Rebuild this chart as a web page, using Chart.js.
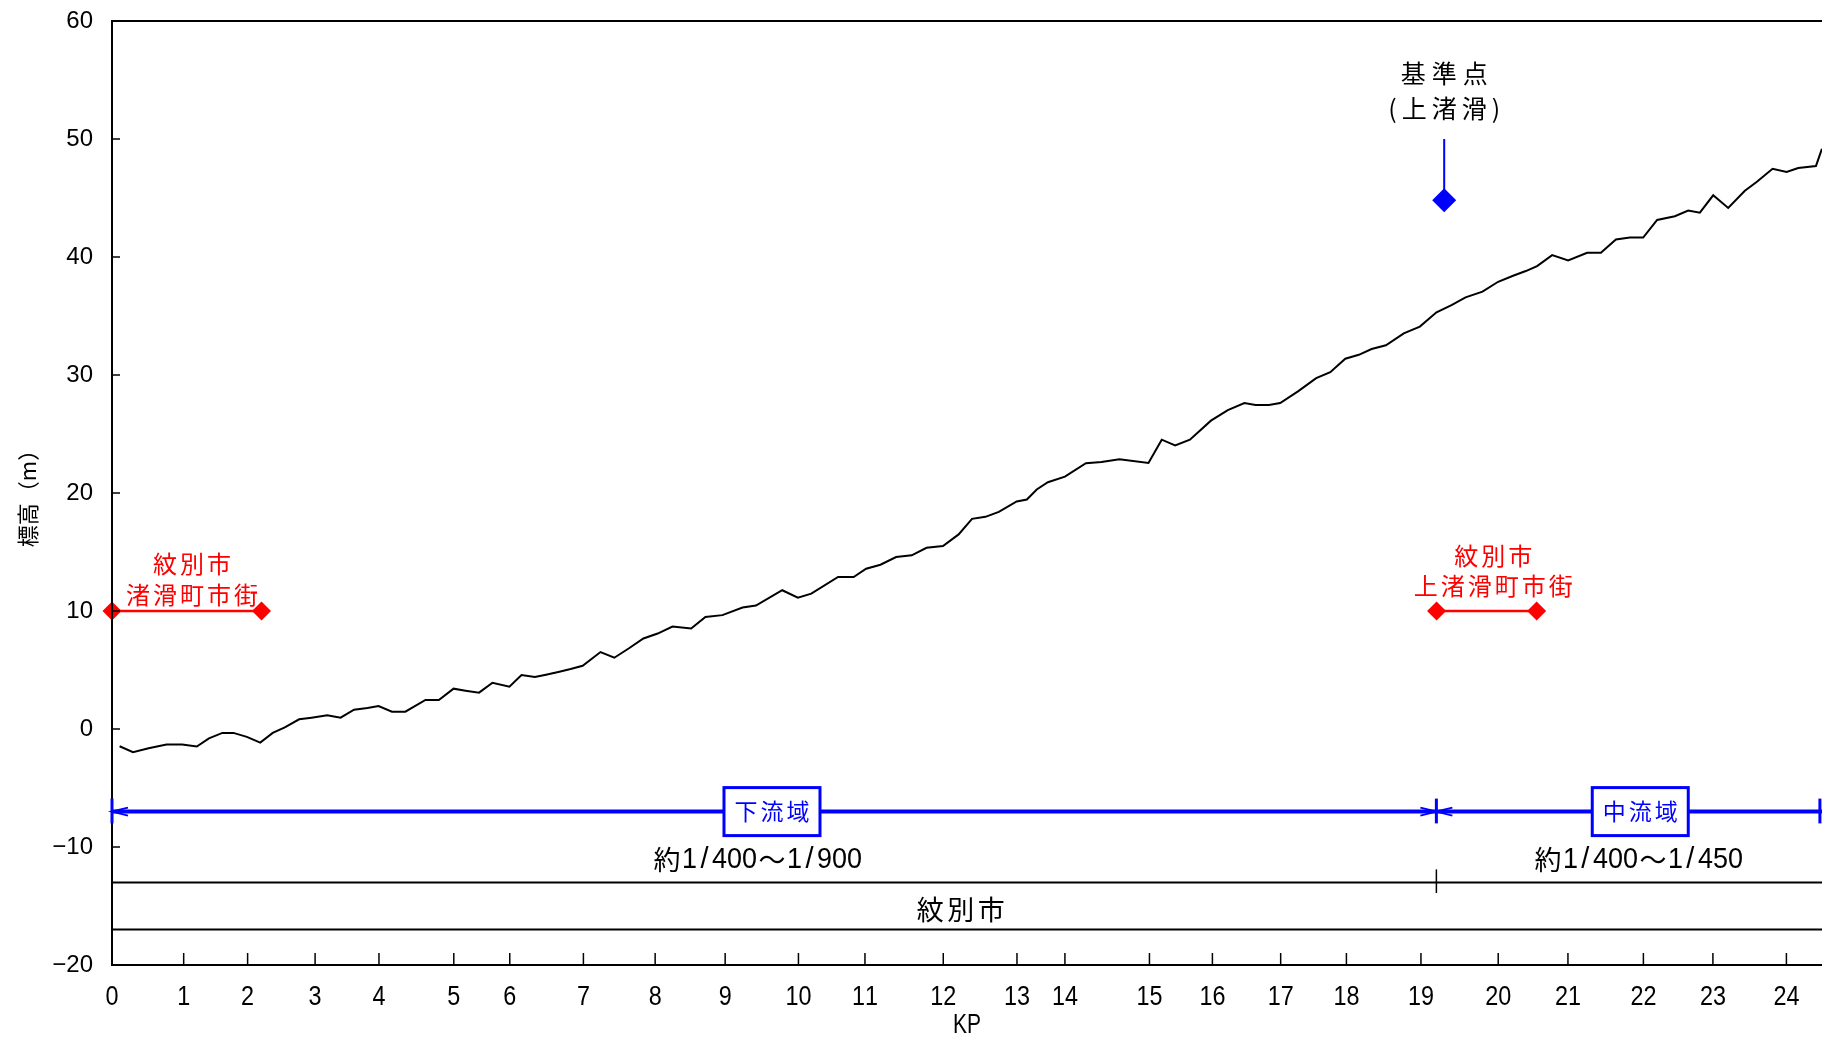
<!DOCTYPE html>
<html><head><meta charset="utf-8">
<script src="https://cdn.jsdelivr.net/npm/chart.js@4.4.0/dist/chart.umd.min.js"></script>
<style>html,body{margin:0;padding:0;background:#fff;overflow:hidden}</style>
</head><body>
<canvas id="c" width="1822" height="1039"></canvas>
<script>
// ---------- data ----------
const kpLabels = ['0','1','2','3','4','5','6','7','8','9','10','11','12','13','14','15','16','17','18','19','20','21','22','23','24'];
const kpPositions = [0,1.027,1.943,2.910,3.825,4.897,5.699,6.754,7.782,8.785,9.835,10.788,11.910,12.966,13.653,14.864,15.766,16.744,17.686,18.754,19.861,20.860,21.941,22.937,23.990];
const yTicks = [-20,-10,0,10,20,30,40,50,60];

const profileDist = [0.109,0.301,0.524,0.781,1.005,1.215,1.389,1.581,1.740,1.932,
 2.124,2.303,2.476,2.681,2.859,3.084,3.275,3.468,3.660,3.819,
 4.011,4.203,4.491,4.683,4.894,5.066,5.259,5.451,5.694,5.867,
 6.059,6.218,6.410,6.571,6.743,6.999,7.197,7.402,7.614,7.818,
 8.030,8.298,8.502,8.746,9.034,9.226,9.603,9.827,10.019,10.403,
 10.626,10.805,11.010,11.234,11.458,11.670,11.906,12.130,12.322,12.514,
 12.706,12.962,13.108,13.249,13.409,13.653,13.954,14.177,14.433,14.850,
 15.040,15.232,15.444,15.745,15.987,16.224,16.384,16.576,16.737,16.992,
 17.253,17.455,17.670,17.864,18.047,18.252,18.508,18.738,18.977,19.192,
 19.393,19.636,19.860,20.074,20.256,20.418,20.634,20.863,21.135,21.332,
 21.547,21.748,21.938,22.138,22.392,22.583,22.750,22.941,23.156,23.395,
 23.563,23.792,23.993,24.159,24.413,24.499];
const profileElev = [-1.46,-1.97,-1.63,-1.32,-1.32,-1.49,-0.79,-0.33,-0.33,-0.67,
 -1.15,-0.33,0.14,0.82,0.96,1.16,0.96,1.64,1.78,1.95,
 1.47,1.47,2.46,2.46,3.42,3.25,3.08,3.92,3.58,4.57,
 4.40,4.60,4.85,5.08,5.36,6.52,6.04,6.82,7.67,8.09,
 8.68,8.51,9.50,9.65,10.29,10.46,11.76,11.13,11.47,12.88,
 12.88,13.58,13.92,14.57,14.72,15.36,15.50,16.49,17.81,17.98,
 18.40,19.28,19.45,20.30,20.91,21.39,22.52,22.63,22.86,22.54,
 24.52,24.04,24.52,26.13,27.02,27.62,27.45,27.45,27.62,28.61,
 29.73,30.24,31.38,31.71,32.20,32.52,33.53,34.10,35.31,35.93,
 36.58,37.06,37.90,38.41,38.81,39.23,40.16,39.70,40.36,40.36,
 41.48,41.65,41.65,43.14,43.46,43.93,43.76,45.23,44.16,45.62,
 46.36,47.48,47.20,47.54,47.71,49.17];

// town (市街) ranges
const townLine1 = ['紋別市','紋別市'];
const townLine2 = ['渚滑町市街','上渚滑町市街'];
const townStart = [0, 18.978];
const townEnd = [2.142, 20.411];
const townElev = [10, 10];
const townLabelDist = [1.146, 19.79];
const townLabelElev1 = [14.0, 14.67];
const townLabelElev2 = [11.37, 12.14];

// benchmark
const benchLabel = ['基準点','(上渚滑)'];
const benchDist = 19.087;
const benchElev = 44.8;
const benchTop = 50;
const benchLabelElev = [55.54, 52.58];

// reaches
const reachNames = ['下流域','中流域'];
const reachLabelDist = [9.456, 21.896];
const reachBoundary = 18.975;
const reachLineElev = -7;
const reachEndDist = 24.47;
const slopeTexts = ['約1/400～1/900','約1/400～1/450'];
const slopeDist = [9.241, 21.862];
const slopeElev = -11.1;

// municipality band
const cityName = '紋別市';
const cityDist = 12.16;
const cityElev = -15.3;
const bandTop = -13;
const bandBottom = -17;

const xMin = 0, xMax = 24.5, yMin = -20, yMax = 60;

// ---------- helpers ----------
const CJK = '"Noto Sans CJK JP"';
function spaced(ctx, text, cx, cy, font, color, ls) {
  ctx.save();
  ctx.font = font; ctx.fillStyle = color; ctx.textBaseline = 'middle'; ctx.textAlign = 'left';
  const chars = [...text];
  const ws = chars.map(c => ctx.measureText(c).width);
  const total = ws.reduce((a, b) => a + b, 0) + ls * (chars.length - 1);
  let x = cx - total / 2;
  chars.forEach((c, i) => { ctx.fillText(c, x, cy); x += ws[i] + ls; });
  ctx.restore();
}
function isWide(c) { return c.charCodeAt(0) > 0x2E80; }
function mono(ctx, text, cx, cy, em, latinFont, cjkFont, color) {
  ctx.save();
  ctx.fillStyle = color; ctx.textBaseline = 'middle'; ctx.textAlign = 'center';
  const chars = [...text];
  const adv = chars.map(c => isWide(c) ? em : em / 2);
  const total = adv.reduce((a, b) => a + b, 0);
  let x = cx - total / 2;
  chars.forEach((c, i) => {
    ctx.font = isWide(c) ? cjkFont : latinFont;
    const w = ctx.measureText(c).width;
    const s = Math.min(1, adv[i] / w);
    ctx.save(); ctx.translate(x + adv[i] / 2, cy); ctx.scale(s, 1); ctx.fillText(c, 0, 0); ctx.restore();
    x += adv[i];
  });
  ctx.restore();
}
function line(ctx, x1, y1, x2, y2, color, w) {
  ctx.save(); ctx.strokeStyle = color; ctx.lineWidth = w; ctx.lineCap = 'butt';
  ctx.beginPath(); ctx.moveTo(x1, y1); ctx.lineTo(x2, y2); ctx.stroke(); ctx.restore();
}

// fix the plot rectangle so it matches the reference frame
const AREA = { left: 112, top: 21, right: 1822, bottom: 965 };
const fixArea = {
  id: 'fixArea',
  afterLayout(chart) {
    const ca = chart.chartArea;
    Object.assign(ca, AREA, { width: AREA.right - AREA.left, height: AREA.bottom - AREA.top });
    const xs = chart.scales.x, ys = chart.scales.y;
    xs.left = AREA.left; xs.right = AREA.right; xs.width = AREA.right - AREA.left;
    xs.top = AREA.bottom; xs.bottom = AREA.bottom; xs.configure();
    ys.top = AREA.top; ys.bottom = AREA.bottom; ys.height = AREA.bottom - AREA.top;
    ys.left = 0; ys.right = AREA.left; ys.width = AREA.left; ys.configure();
  }
};

const overlay = {
  id: 'overlay',
  afterDatasetsDraw(chart) {
    const ctx = chart.ctx, xs = chart.scales.x, ys = chart.scales.y, a = chart.chartArea;
    const X = v => xs.getPixelForValue(v), Y = v => ys.getPixelForValue(v);
    // frame
    line(ctx, a.left, a.top, a.right, a.top, '#000', 2);
    line(ctx, a.left, a.top - 1, a.left, a.bottom + 1, '#000', 2);
    line(ctx, a.left, a.bottom, a.right, a.bottom, '#000', 2);
    // inner ticks
    yTicks.forEach(v => line(ctx, a.left, Y(v), a.left + 8, Y(v), '#000', 1.5));
    kpPositions.forEach(p => { if (p > 0) line(ctx, X(p), a.bottom, X(p), a.bottom - 12, '#000', 1.5); });
    // x labels
    kpPositions.forEach((p, i) => mono(ctx, kpLabels[i], X(p), a.bottom + 33, 26, '27px "Liberation Sans"', '27px ' + CJK, '#000'));
    mono(ctx, 'KP', (a.left + a.right) / 2, a.bottom + 60, 28, '28px "Liberation Sans"', '28px ' + CJK, '#000');

    // municipality band
    line(ctx, a.left, Y(bandTop), a.right, Y(bandTop), '#000', 2);
    line(ctx, a.left, Y(bandBottom), a.right, Y(bandBottom), '#000', 2);
    line(ctx, X(reachBoundary), Y(bandTop + 1.1), X(reachBoundary), Y(bandTop - 0.9), '#000', 1.5);
    spaced(ctx, cityName, X(cityDist), Y(cityElev), '27px ' + CJK, '#000', 3.5);

    // reach line
    const blue = '#0000FF';
    const yr = Y(reachLineElev);
    line(ctx, a.left, yr, a.right, yr, blue, 4);
    const vt = (u) => line(ctx, X(u), Y(reachLineElev + 1.1), X(u), Y(reachLineElev - 1.0), blue, 3);
    vt(0); vt(reachBoundary); vt(reachEndDist);
    const arrow = (tip, dir) => {
      ctx.save(); ctx.strokeStyle = blue; ctx.lineWidth = 2;
      ctx.beginPath();
      ctx.moveTo(tip + dir * 16, yr - 4); ctx.lineTo(tip, yr); ctx.lineTo(tip + dir * 16, yr + 4);
      ctx.stroke(); ctx.restore();
    };
    arrow(X(0), 1);
    arrow(X(reachBoundary), -1);
    arrow(X(reachBoundary), 1);
    // reach boxes
    reachNames.forEach((n, i) => {
      const cx = X(reachLabelDist[i]);
      ctx.save();
      ctx.fillStyle = '#fff'; ctx.strokeStyle = blue; ctx.lineWidth = 3;
      ctx.fillRect(cx - 48, yr - 24, 96, 48);
      ctx.strokeRect(cx - 48, yr - 24, 96, 48);
      ctx.restore();
      spaced(ctx, n, cx, yr, '23px ' + CJK, blue, 3);
    });
    // slope texts
    slopeTexts.forEach((t, i) => mono(ctx, t, X(slopeDist[i]), Y(slopeElev), 30, '29px "Liberation Sans"', '27px ' + CJK, '#000'));

    // town labels
    townLine1.forEach((t, i) => {
      spaced(ctx, t, X(townLabelDist[i]), Y(townLabelElev1[i]), '24px ' + CJK, '#FF0000', 3);
      spaced(ctx, townLine2[i], X(townLabelDist[i]), Y(townLabelElev2[i]), '24px ' + CJK, '#FF0000', 3);
    });
    // benchmark labels
    spaced(ctx, benchLabel[0], X(benchDist), Y(benchLabelElev[0]), '25px ' + CJK, '#000', 6);
    spaced(ctx, benchLabel[1], X(benchDist), Y(benchLabelElev[1]), '25px ' + CJK, '#000', 5);
  }
};

new Chart(document.getElementById('c'), {
  type: 'line',
  data: {
    datasets: [
      { data: profileDist.map((d, i) => ({ x: d, y: profileElev[i] })), borderColor: '#000', borderWidth: 2,
        pointRadius: 0, tension: 0, fill: false },
      ...townStart.map((s, i) => ({
        data: [{ x: s, y: townElev[i] }, { x: townEnd[i], y: townElev[i] }],
        borderColor: '#FF0000', borderWidth: 2.5, pointStyle: 'rectRot', pointRadius: 9.5,
        pointBackgroundColor: '#FF0000', pointBorderColor: '#FF0000', pointBorderWidth: 0, clip: false })),
      { data: [{ x: benchDist, y: benchTop }, { x: benchDist, y: benchElev }],
        borderColor: '#0000FF', borderWidth: 2, pointStyle: 'rectRot', pointRadius: [0, 12],
        pointBackgroundColor: '#0000FF', pointBorderColor: '#0000FF', pointBorderWidth: 0, clip: false }
    ]
  },
  options: {
    responsive: false, animation: false,
    layout: { padding: { left: 0, right: 0, top: 19, bottom: 74 } },
    plugins: { legend: { display: false }, tooltip: { enabled: false } },
    events: [],
    scales: {
      x: { type: 'linear', min: xMin, max: xMax, display: false },
      y: {
        type: 'linear', min: yMin, max: yMax,
        afterBuildTicks: s => { s.ticks = yTicks.map(v => ({ value: v })); },
        afterFit: s => { s.width = 112; },
        grid: { display: false, drawTicks: false },
        border: { display: false },
        ticks: { font: { family: 'Liberation Sans', size: 24 }, color: '#000', padding: 19,
          callback: v => v < 0 ? '−' + (-v) : String(v) },
        title: { display: true, text: '標高（m）', color: '#000',
          font: { family: 'Noto Sans CJK JP', size: 22 }, padding: { top: 14, bottom: 0 } }
      }
    }
  },
  plugins: [fixArea, overlay]
});
</script>
</body></html>
